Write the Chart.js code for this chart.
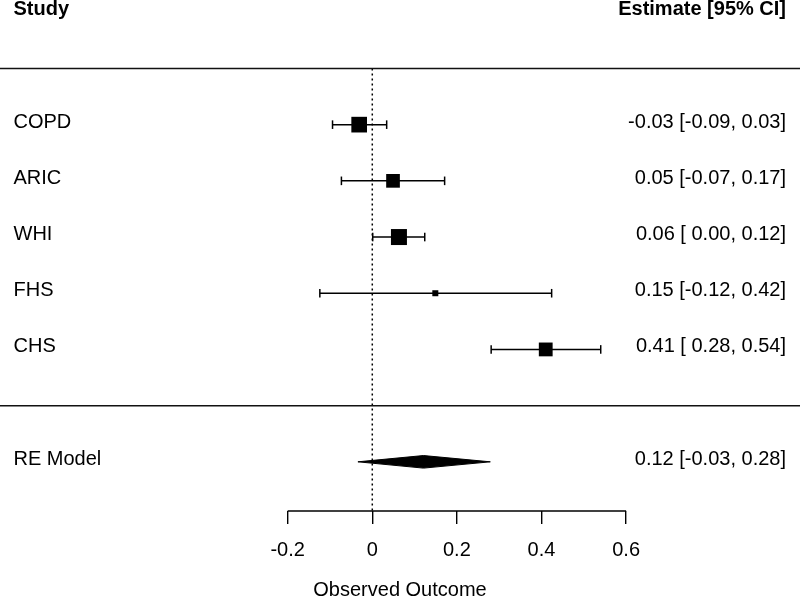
<!DOCTYPE html>
<html>
<head>
<meta charset="utf-8">
<title>Forest plot</title>
<script src="https://cdn.jsdelivr.net/npm/chart.js@4.4.1/dist/chart.umd.min.js"></script>
<style>
  html, body { margin: 0; padding: 0; background: #fff; }
  #wrap { width: 800px; height: 597px; }
</style>
</head>
<body>
<div id="wrap"><canvas id="forest" width="800" height="597"></canvas></div>
<script>
/* ----------------------------------------------------------
   DATA
---------------------------------------------------------- */
const studies   = ['COPD', 'ARIC', 'WHI', 'FHS', 'CHS'];
const estimates = [-0.031, 0.049, 0.063, 0.149, 0.410];
const ciLower   = [-0.094, -0.073, 0.001, -0.124, 0.281];
const ciUpper   = [0.034, 0.171, 0.124, 0.424, 0.540];
const weights   = [22.4, 20.6, 22.7, 13.6, 20.7];   // % weight, sets square size

const modelLabel = 'RE Model';
const modelEst   = 0.121;
const modelLower = -0.034;
const modelUpper = 0.279;

const headers = ['Study', 'Estimate [95% CI]'];
const xTicks  = [-0.2, 0, 0.2, 0.4, 0.6];
const xTitle  = 'Observed Outcome';

/* ----------------------------------------------------------
   LAYOUT (row units on the y scale, like metafor's forest())
---------------------------------------------------------- */
const K = studies.length;
const studyRows = studies.map((_, i) => K - i);   // 5..1
const modelRow  = -1;
const Y_MIN = -1.875;
const Y_MAX = 7.218;
const X_MIN = -0.8801;
const X_MAX = 1.0111;
const FONT = '"Liberation Sans", Helvetica, Arial, sans-serif';
const INK = '#000';

function fmt(v) { return v.toFixed(2); }
function fmtCI(est, lo, hi) {
    return fmt(est) + ' [' + fmt(lo).padStart(5, ' ') + ', ' + fmt(hi).padStart(4, ' ') + ']';
}

// square side follows metafor: cex scaled 0.5..1.5 over the weights
const wMin = Math.min(...weights), wMax = Math.max(...weights);
const squareRadius = weights.map((w) => {
    const cex = 0.5 + (w - wMin) / (wMax - wMin);
    const side = 1 + 10 * cex;
    return side / (2 * Math.SQRT1_2);
});

/* ----------------------------------------------------------
   DATASETS
---------------------------------------------------------- */
const datasets = [];

// reference line at 0 (dotted)
datasets.push({
    type: 'line',
    data: [{ x: 0, y: K + 1 }, { x: 0, y: Y_MIN }],
    borderColor: INK,
    borderWidth: 1.5,
    borderDash: [2, 3],
    pointRadius: 0,
    order: 5
});

// CI whiskers with end caps
studies.forEach((s, i) => {
    datasets.push({
        type: 'line',
        data: [{ x: ciLower[i], y: studyRows[i] }, { x: ciUpper[i], y: studyRows[i] }],
        borderColor: INK,
        borderWidth: 1.5,
        pointStyle: 'line',
        rotation: 90,
        pointRadius: 4.3,
        pointBorderWidth: 1.5,
        pointBorderColor: INK,
        order: 3
    });
});

// study squares
datasets.push({
    type: 'scatter',
    data: studies.map((s, i) => ({ x: estimates[i], y: studyRows[i] })),
    pointStyle: 'rect',
    pointRadius: squareRadius,
    backgroundColor: INK,
    borderWidth: 0,
    pointBorderWidth: 0,
    order: 1
});

// summary diamond
const halfH = 0.112;
datasets.push({
    type: 'line',
    data: [
        { x: modelLower, y: modelRow },
        { x: modelEst, y: modelRow + halfH },
        { x: modelUpper, y: modelRow },
        { x: modelEst, y: modelRow - halfH },
        { x: modelLower, y: modelRow }
    ],
    borderColor: INK,
    borderWidth: 1,
    backgroundColor: INK,
    fill: 'shape',
    tension: 0,
    pointRadius: 0,
    order: 1
});

/* ----------------------------------------------------------
   PLUGIN: rules, axis segment and text columns
---------------------------------------------------------- */
const forestDecor = {
    id: 'forestDecor',
    afterDatasetsDraw(chart) {
        const { ctx, chartArea, scales: { x, y } } = chart;
        ctx.save();

        // horizontal rules under header and above summary
        ctx.strokeStyle = '#111';
        ctx.lineWidth = 1.5;
        [K + 1, 0].forEach((row) => {
            const py = y.getPixelForValue(row);
            ctx.beginPath();
            ctx.moveTo(chartArea.left, py);
            ctx.lineTo(chartArea.right, py);
            ctx.stroke();
        });

        // x axis line only over the tick range
        ctx.strokeStyle = INK;
        ctx.lineWidth = 1.4;
        const ay = chartArea.bottom;
        ctx.beginPath();
        ctx.moveTo(x.getPixelForValue(xTicks[0]), ay);
        ctx.lineTo(x.getPixelForValue(xTicks[xTicks.length - 1]), ay);
        ctx.stroke();

        // text
        const left = 13.5, right = 786;
        ctx.fillStyle = INK;
        ctx.textBaseline = 'middle';

        ctx.font = 'bold 20px ' + FONT;
        const hy = y.getPixelForValue(K + 2) - 2.5;
        ctx.textAlign = 'left';
        ctx.fillText(headers[0], left, hy);
        ctx.textAlign = 'right';
        ctx.fillText(headers[1], right, hy);

        ctx.font = '20px ' + FONT;
        studies.forEach((s, i) => {
            const py = y.getPixelForValue(studyRows[i]) - 2.5;
            ctx.textAlign = 'left';
            ctx.fillText(s, left, py);
            ctx.textAlign = 'right';
            ctx.fillText(fmtCI(estimates[i], ciLower[i], ciUpper[i]), right, py);
        });

        const my = y.getPixelForValue(modelRow) - 2.5;
        ctx.textAlign = 'left';
        ctx.fillText(modelLabel, left, my);
        ctx.textAlign = 'right';
        ctx.fillText(fmtCI(modelEst, modelLower, modelUpper), right, my);

        ctx.restore();
    }
};

/* ----------------------------------------------------------
   CHART
---------------------------------------------------------- */
new Chart(document.getElementById('forest').getContext('2d'), {
    data: { datasets },
    plugins: [forestDecor],
    options: {
        responsive: false,
        animation: false,
        events: [],
        // no auto padding for the big squares: the plot region runs edge to edge
        layout: { padding: 0, autoPadding: false },
        plugins: {
            legend: { display: false },
            tooltip: { enabled: false }
        },
        scales: {
            x: {
                type: 'linear',
                min: X_MIN,
                max: X_MAX,
                afterBuildTicks: (s) => { s.ticks = xTicks.map((v) => ({ value: v })); },
                afterFit: (s) => { s.paddingLeft = 0; s.paddingRight = 0; },
                ticks: {
                    autoSkip: false,
                    maxRotation: 0,
                    padding: 14,
                    color: INK,
                    font: { family: FONT, size: 20 },
                    callback: (v) => String(v)
                },
                grid: {
                    drawOnChartArea: false,
                    drawTicks: true,
                    tickLength: 13,
                    color: INK,
                    lineWidth: 1.4
                },
                border: { display: false },
                title: {
                    display: true,
                    text: xTitle,
                    color: INK,
                    font: { family: FONT, size: 20, lineHeight: 0.7 },
                    padding: { top: 7, bottom: 0 }
                }
            },
            y: {
                type: 'linear',
                display: false,
                min: Y_MIN,
                max: Y_MAX
            }
        }
    }
});
</script>
</body>
</html>
